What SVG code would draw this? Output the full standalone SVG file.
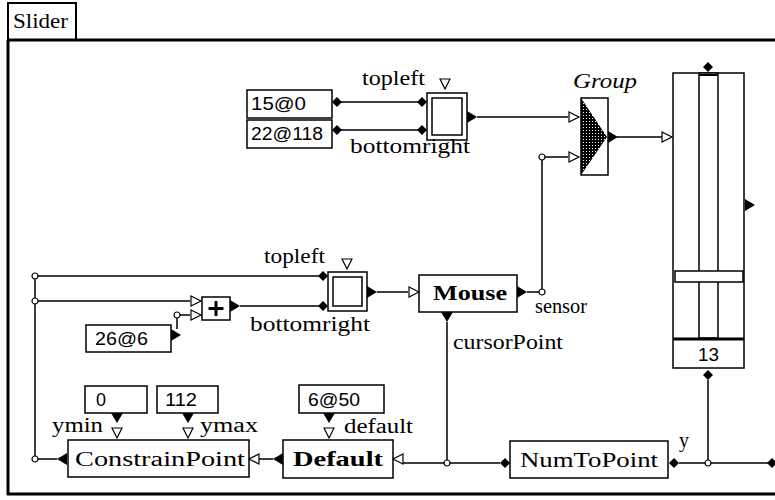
<svg xmlns="http://www.w3.org/2000/svg" xmlns:xlink="http://www.w3.org/1999/xlink" width="775" height="500" viewBox="0 0 775 500">
<style>
.ln{stroke:#000;stroke-width:1.5;fill:none}
.bx{fill:#fff;stroke:#000;stroke-width:1.5}
.lb{font-family:"Liberation Serif","DejaVu Serif",serif;font-size:20px;fill:#000}
.bd{font-family:"Liberation Serif","DejaVu Serif",serif;font-size:22px;font-weight:bold;fill:#000}
.nm{font-family:"Liberation Sans","DejaVu Sans",sans-serif;font-size:18px;fill:#000}
</style>
<defs>
<polygon id="fr" points="0,-6 10,0 0,6" fill="#000"/>
<polygon id="or" points="0,-5 10,0 0,5" fill="#fff" stroke="#000" stroke-width="1.2"/>
<polygon id="dm" points="-5,0 0,-5 5,0 0,5" fill="#000"/>
<circle id="ci" r="3" fill="#fff" stroke="#000" stroke-width="1.2"/>
<pattern id="dots" width="3" height="3" patternUnits="userSpaceOnUse">
<rect width="3" height="3" fill="#000"/>
<rect x="1" y="1" width="1" height="1" fill="#fff"/>
</pattern>
</defs>
<rect width="775" height="500" fill="#fff"/>
<g id="frame">
<rect x="8" y="3" width="68" height="37" fill="#fff" stroke="#000" stroke-width="2"/>
<text class="lb" x="13" y="28" font-size="21" textLength="55" lengthAdjust="spacingAndGlyphs">Slider</text>
<path d="M8,40 V495 M7,40 H775 M7,494 H775" stroke="#000" stroke-width="3" fill="none"/>
</g>
<g id="connectors">
<path class="ln" d="M337,102 H422 M337,130 H422 M477,117 H568 M617,137 H662 M527,292 H542 V157 H568 M377,292 H408 M708,380 V463 M679,463 H770 M500,463 H403 M447,322 V463 M259,459 H273 M38,459 H57 M35,276 V459 M35,276 H322 M35,301 H190 M177,329 V315 H190 M240,306 H322"/>
</g>
<g id="rect1">
<rect class="bx" x="427" y="93" width="40" height="47" stroke-width="2"/>
<rect class="bx" x="432" y="98" width="30" height="37"/>
<use xlink:href="#or" transform="translate(445,79) rotate(90)"/>
<use xlink:href="#dm" x="337" y="102"/><use xlink:href="#dm" x="422" y="102"/>
<use xlink:href="#dm" x="337" y="130"/><use xlink:href="#dm" x="422" y="130"/>
<use xlink:href="#fr" x="467" y="117"/>
<text class="lb" x="362" y="85" textLength="63" lengthAdjust="spacingAndGlyphs">topleft</text>
<text class="lb" x="350" y="153" textLength="120" lengthAdjust="spacingAndGlyphs">bottomright</text>
</g>
<g id="val15">
<rect class="bx" x="247" y="90" width="85" height="28"/>
<text class="nm" x="251" y="110" textLength="55" lengthAdjust="spacingAndGlyphs">15@0</text>
</g>
<g id="val22">
<rect class="bx" x="247" y="120" width="85" height="28"/>
<text class="nm" x="251" y="140" textLength="72" lengthAdjust="spacingAndGlyphs">22@118</text>
</g>
<g id="group">
<rect class="bx" x="581" y="98" width="27" height="77"/>
<polygon points="581,98 607,137 581,175" fill="url(#dots)"/>
<use xlink:href="#or" x="569" y="117"/><use xlink:href="#or" x="569" y="157"/>
<use xlink:href="#fr" x="608" y="137"/>
<use xlink:href="#ci" x="542" y="157"/>
<text class="lb" x="573" y="88" font-style="italic" textLength="64" lengthAdjust="spacingAndGlyphs">Group</text>
</g>
<g id="slider">
<rect class="bx" x="673" y="73" width="71" height="295"/>
<rect class="bx" x="699" y="73" width="19" height="265"/>
<line x1="699" y1="75" x2="718" y2="75" stroke="#000" stroke-width="2"/>
<line x1="673" y1="339" x2="744" y2="339" stroke="#000" stroke-width="3"/>
<rect class="bx" x="675" y="271" width="68" height="11" stroke-width="2"/>
<use xlink:href="#or" x="662" y="137"/>
<use xlink:href="#dm" x="708" y="67"/>
<use xlink:href="#dm" x="708" y="375"/>
<use xlink:href="#fr" x="745" y="205"/>
<text class="nm" x="698" y="361" textLength="21" lengthAdjust="spacingAndGlyphs">13</text>
</g>
<g id="rect2">
<rect class="bx" x="328" y="272" width="39" height="39" stroke-width="2"/>
<rect class="bx" x="333" y="277" width="29" height="29"/>
<use xlink:href="#or" transform="translate(347,259) rotate(90)"/>
<use xlink:href="#dm" x="323" y="276"/><use xlink:href="#dm" x="323" y="306"/>
<use xlink:href="#fr" x="367" y="292"/>
<text class="lb" x="264" y="263" textLength="61" lengthAdjust="spacingAndGlyphs">topleft</text>
<text class="lb" x="250" y="331" textLength="120" lengthAdjust="spacingAndGlyphs">bottomright</text>
</g>
<g id="plus">
<rect class="bx" x="202" y="297" width="28" height="23"/>
<path d="M216,301 V316 M208.5,308.5 H223.5" stroke="#000" stroke-width="3"/>
<use xlink:href="#or" x="191" y="301"/><use xlink:href="#or" x="191" y="315"/>
<use xlink:href="#ci" x="177" y="315"/>
<use xlink:href="#fr" x="230" y="306"/>
</g>
<g id="val26">
<rect class="bx" x="86" y="325" width="85" height="27"/>
<text class="nm" x="95" y="345" textLength="53" lengthAdjust="spacingAndGlyphs">26@6</text>
<use xlink:href="#fr" x="171" y="335"/>
</g>
<g id="mouse">
<rect class="bx" x="419" y="275" width="98" height="37"/>
<text class="bd" x="433" y="300" textLength="74" lengthAdjust="spacingAndGlyphs">Mouse</text>
<use xlink:href="#or" x="409" y="292"/>
<use xlink:href="#fr" x="517" y="292"/>
<use xlink:href="#ci" x="542" y="292"/>
<use xlink:href="#fr" transform="translate(447,312) rotate(90)"/>
<text class="lb" x="535" y="313" textLength="52" lengthAdjust="spacingAndGlyphs">sensor</text>
<text class="lb" x="453" y="349" textLength="110" lengthAdjust="spacingAndGlyphs">cursorPoint</text>
</g>
<g id="val0">
<rect class="bx" x="85" y="386" width="62" height="27"/>
<text class="nm" x="96" y="406">0</text>
<use xlink:href="#fr" transform="translate(117,413) rotate(90)"/>
<use xlink:href="#or" transform="translate(117,428) rotate(90)"/>
</g>
<g id="val112">
<rect class="bx" x="157" y="386" width="61" height="27"/>
<text class="nm" x="165" y="406" textLength="32" lengthAdjust="spacingAndGlyphs">112</text>
<use xlink:href="#fr" transform="translate(188,413) rotate(90)"/>
<use xlink:href="#or" transform="translate(188,428) rotate(90)"/>
</g>
<g id="constrain">
<rect class="bx" x="68" y="440" width="181" height="37"/>
<text class="lb" x="75" y="466" textLength="170" lengthAdjust="spacingAndGlyphs">ConstrainPoint</text>
<text class="lb" x="52" y="432" textLength="51" lengthAdjust="spacingAndGlyphs">ymin</text>
<text class="lb" x="200" y="432" textLength="58" lengthAdjust="spacingAndGlyphs">ymax</text>
<use xlink:href="#or" transform="translate(259,459) rotate(180)"/>
<use xlink:href="#fr" transform="translate(67,459) rotate(180)"/>
<use xlink:href="#ci" x="35" y="459"/>
<use xlink:href="#ci" x="35" y="276"/>
<use xlink:href="#ci" x="35" y="301"/>
</g>
<g id="val650">
<rect class="bx" x="299" y="385" width="85" height="28"/>
<text class="nm" x="308" y="406" textLength="52" lengthAdjust="spacingAndGlyphs">6@50</text>
<use xlink:href="#fr" transform="translate(329,413) rotate(90)"/>
<use xlink:href="#or" transform="translate(329,428) rotate(90)"/>
</g>
<g id="default">
<rect class="bx" x="283" y="440" width="110" height="38"/>
<text class="bd" x="293" y="466" textLength="90" lengthAdjust="spacingAndGlyphs">Default</text>
<text class="lb" x="344" y="433" textLength="69" lengthAdjust="spacingAndGlyphs">default</text>
<use xlink:href="#or" transform="translate(403,459) rotate(180)"/>
<use xlink:href="#fr" transform="translate(283,459) rotate(180)"/>
<use xlink:href="#ci" x="447" y="463"/>
</g>
<g id="numtopoint">
<rect class="bx" x="510" y="441" width="158" height="37"/>
<text class="lb" x="520" y="467" textLength="138" lengthAdjust="spacingAndGlyphs">NumToPoint</text>
<text class="lb" x="679" y="447">y</text>
<use xlink:href="#dm" x="505" y="463"/>
<use xlink:href="#dm" x="674" y="463"/>
<use xlink:href="#dm" x="772" y="463"/>
<use xlink:href="#ci" x="708" y="463"/>
</g>
</svg>
